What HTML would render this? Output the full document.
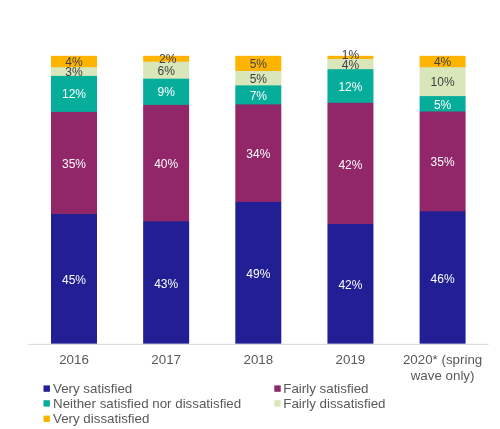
<!DOCTYPE html>
<html><head><meta charset="utf-8"><style>
html,body{margin:0;padding:0;background:#fff;}
body{width:500px;height:429px;position:relative;overflow:hidden;font-family:"Liberation Sans",sans-serif;}
.wrap{position:absolute;left:0;top:0;width:500px;height:429px;will-change:transform;}
.lbl{position:absolute;width:60px;text-align:center;font-size:12px;line-height:12px;white-space:nowrap;}
.cat{position:absolute;top:352px;width:100px;text-align:center;font-size:13.33px;line-height:15.6px;color:#595959;}
.lt{position:absolute;font-size:13.33px;line-height:15px;color:#595959;white-space:nowrap;}
</style></head><body><div class="wrap">
<svg width="500" height="429" style="position:absolute;left:0;top:0" shape-rendering="geometricPrecision"><defs><mask id="c0" maskUnits="userSpaceOnUse" x="0" y="0" width="500" height="429"><rect x="51.0" y="55.6" width="46.0" height="288.20" fill="#fff"/></mask><mask id="c1" maskUnits="userSpaceOnUse" x="0" y="0" width="500" height="429"><rect x="143.15" y="55.6" width="46.0" height="288.20" fill="#fff"/></mask><mask id="c2" maskUnits="userSpaceOnUse" x="0" y="0" width="500" height="429"><rect x="235.3" y="55.6" width="46.0" height="288.20" fill="#fff"/></mask><mask id="c3" maskUnits="userSpaceOnUse" x="0" y="0" width="500" height="429"><rect x="327.45" y="55.6" width="46.0" height="288.20" fill="#fff"/></mask><mask id="c4" maskUnits="userSpaceOnUse" x="0" y="0" width="500" height="429"><rect x="419.6" y="55.6" width="46.0" height="288.20" fill="#fff"/></mask></defs><g mask="url(#c0)"><rect x="48.0" y="55.6" width="52.0" height="291.20" fill="#FFB500"/><rect x="48.0" y="67.2" width="52.0" height="279.60" fill="#D8E6BA"/><rect x="48.0" y="75.9" width="52.0" height="270.90" fill="#06AD9B"/><rect x="48.0" y="111.9" width="52.0" height="234.90" fill="#912668"/><rect x="48.0" y="214.0" width="52.0" height="132.80" fill="#221F94"/></g><g mask="url(#c1)"><rect x="140.15" y="55.6" width="52.0" height="291.20" fill="#FFB500"/><rect x="140.15" y="61.7" width="52.0" height="285.10" fill="#D8E6BA"/><rect x="140.15" y="78.7" width="52.0" height="268.10" fill="#06AD9B"/><rect x="140.15" y="104.9" width="52.0" height="241.90" fill="#912668"/><rect x="140.15" y="221.4" width="52.0" height="125.40" fill="#221F94"/></g><g mask="url(#c2)"><rect x="232.3" y="55.6" width="52.0" height="291.20" fill="#FFB500"/><rect x="232.3" y="71.0" width="52.0" height="275.80" fill="#D8E6BA"/><rect x="232.3" y="85.4" width="52.0" height="261.40" fill="#06AD9B"/><rect x="232.3" y="104.4" width="52.0" height="242.40" fill="#912668"/><rect x="232.3" y="201.9" width="52.0" height="144.90" fill="#221F94"/></g><g mask="url(#c3)"><rect x="324.45" y="55.6" width="52.0" height="291.20" fill="#FFB500"/><rect x="324.45" y="59.0" width="52.0" height="287.80" fill="#D8E6BA"/><rect x="324.45" y="69.2" width="52.0" height="277.60" fill="#06AD9B"/><rect x="324.45" y="102.8" width="52.0" height="244.00" fill="#912668"/><rect x="324.45" y="224.0" width="52.0" height="122.80" fill="#221F94"/></g><g mask="url(#c4)"><rect x="416.6" y="55.6" width="52.0" height="291.20" fill="#FFB500"/><rect x="416.6" y="67.2" width="52.0" height="279.60" fill="#D8E6BA"/><rect x="416.6" y="96.1" width="52.0" height="250.70" fill="#06AD9B"/><rect x="416.6" y="111.5" width="52.0" height="235.30" fill="#912668"/><rect x="416.6" y="211.3" width="52.0" height="135.50" fill="#221F94"/></g><rect x="43.5" y="385.4" width="6.4" height="6.4" fill="#221F94"/><rect x="274.3" y="385.4" width="6.4" height="6.4" fill="#912668"/><rect x="43.5" y="400.2" width="6.4" height="6.4" fill="#06AD9B"/><rect x="274.3" y="400.2" width="6.4" height="6.4" fill="#D8E6BA"/><rect x="43.5" y="415.6" width="6.4" height="6.4" fill="#FFB500"/><rect x="28" y="343.8" width="460.6" height="1.2" fill="#DEDEDE"/></svg>
<div class="lbl" style="left:44.00px;top:56.20px;color:#404040">4%</div>
<div class="lbl" style="left:44.00px;top:66.35px;color:#404040">3%</div>
<div class="lbl" style="left:44.00px;top:88.20px;color:#FFFFFF">12%</div>
<div class="lbl" style="left:44.00px;top:157.75px;color:#FFFFFF">35%</div>
<div class="lbl" style="left:44.00px;top:273.70px;color:#FFFFFF">45%</div>
<div class="lbl" style="left:137.65px;top:53.45px;color:#404040">2%</div>
<div class="lbl" style="left:136.15px;top:65.00px;color:#404040">6%</div>
<div class="lbl" style="left:136.15px;top:86.20px;color:#FFFFFF">9%</div>
<div class="lbl" style="left:136.15px;top:157.95px;color:#FFFFFF">40%</div>
<div class="lbl" style="left:136.15px;top:278.40px;color:#FFFFFF">43%</div>
<div class="lbl" style="left:228.30px;top:58.10px;color:#404040">5%</div>
<div class="lbl" style="left:228.30px;top:73.00px;color:#404040">5%</div>
<div class="lbl" style="left:228.30px;top:89.70px;color:#FFFFFF">7%</div>
<div class="lbl" style="left:228.30px;top:147.95px;color:#FFFFFF">34%</div>
<div class="lbl" style="left:228.30px;top:268.45px;color:#FFFFFF">49%</div>
<div class="lbl" style="left:320.45px;top:49.10px;color:#404040">1%</div>
<div class="lbl" style="left:320.45px;top:58.90px;color:#404040">4%</div>
<div class="lbl" style="left:320.45px;top:80.80px;color:#FFFFFF">12%</div>
<div class="lbl" style="left:320.45px;top:158.60px;color:#FFFFFF">42%</div>
<div class="lbl" style="left:320.45px;top:278.70px;color:#FFFFFF">42%</div>
<div class="lbl" style="left:412.60px;top:56.20px;color:#404040">4%</div>
<div class="lbl" style="left:412.60px;top:76.45px;color:#404040">10%</div>
<div class="lbl" style="left:412.60px;top:98.60px;color:#FFFFFF">5%</div>
<div class="lbl" style="left:412.60px;top:156.20px;color:#FFFFFF">35%</div>
<div class="lbl" style="left:412.60px;top:272.75px;color:#FFFFFF">46%</div>
<div class="cat" style="left:24.00px">2016</div>
<div class="cat" style="left:116.15px">2017</div>
<div class="cat" style="left:208.30px">2018</div>
<div class="cat" style="left:300.45px">2019</div>
<div class="cat" style="left:392.60px">2020* (spring<br>wave only)</div>
<div class="lt" style="left:53.00px;top:380.80px">Very satisfied</div>
<div class="lt" style="left:283.30px;top:380.80px">Fairly satisfied</div>
<div class="lt" style="left:53.00px;top:396.00px">Neither satisfied nor dissatisfied</div>
<div class="lt" style="left:283.30px;top:396.00px">Fairly dissatisfied</div>
<div class="lt" style="left:53.00px;top:411.00px">Very dissatisfied</div>
</div></body></html>
